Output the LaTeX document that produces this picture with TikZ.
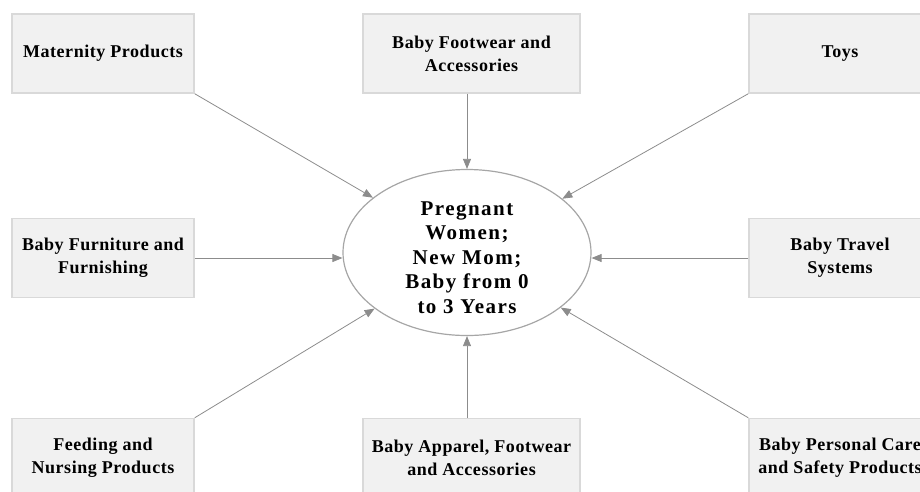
\documentclass[tikz,border=0pt]{standalone}
\usepackage{fontspec}
\setmainfont{Liberation Serif}
\usetikzlibrary{shapes, calc, arrows.meta}
\definecolor{boxfill}{HTML}{F1F1F1}
\definecolor{boxline}{HTML}{D9D9D9}
\definecolor{arrowgray}{HTML}{8C8C8C}
\definecolor{ringgray}{HTML}{A6A6A6}
\tikzset{
	catbox/.style={draw=boxline, fill=boxfill, line width=1.5pt, minimum width=182pt, minimum height=79pt, align=center, inner sep=2pt, font=\bfseries\fontsize{18}{23}\selectfont\addfontfeatures{LetterSpace=3}},
	widebox/.style={catbox, minimum width=217pt},
	flow/.style={draw=arrowgray, line width=0.8pt, -{Triangle[length=10pt,width=8pt]}}
}

\begin{document}
\begin{tikzpicture}[x=1pt,y=-1pt]
		\clip (0,0) rectangle (920,491);
		\useasboundingbox (0,0) rectangle (920,491);
		% centre
		\node[ellipse, draw=ringgray, line width=1.2pt, fill=white, minimum width=248pt, minimum height=166pt, inner sep=0pt] (ell) at (467,252.5) {};
		\node[align=center, font=\bfseries\fontsize{21}{24.5}\selectfont\addfontfeatures{LetterSpace=7}] (elltext) at ([yshift=-5pt]ell.center) {Pregnant\\Women;\\New Mom;\\Baby from 0\\to 3 Years};
		% top row
		\node[catbox] (mat) at (103,53.5) {Maternity Products};
		\node[widebox] (foot) at (471.5,53.5) {Baby Footwear and\\Accessories};
		\node[catbox] (toys) at (840,53.5) {Toys};
		% middle row
		\node[catbox] (furn) at (103,258) {Baby Furniture and\\Furnishing};
		\node[catbox] (trav) at (840,258) {Baby Travel\\Systems};
		% bottom row
		\node[catbox] (feed) at (103,458) {Feeding and\\Nursing Products};
		\node[widebox] (app) at (471.5,458) {Baby Apparel, Footwear\\and Accessories};
		\node[catbox] (pers) at (840,458) {Baby Personal Care\\and Safety Products};
		% arrows
		\draw[flow] (mat.south east) -- (ell);
		\draw[flow] (ell.north |- foot.south) -- (ell.north);
		\draw[flow] (toys.south west) -- (ell);
		\draw[flow] (furn.east) -- (ell.west |- furn.east);
		\draw[flow] (trav.west) -- (ell.east |- trav.west);
		\draw[flow] (feed.north east) -- (ell);
		\draw[flow] (ell.south |- app.north) -- (ell.south);
		\draw[flow] (pers.north west) -- (ell);
	\end{tikzpicture}
\end{document}
